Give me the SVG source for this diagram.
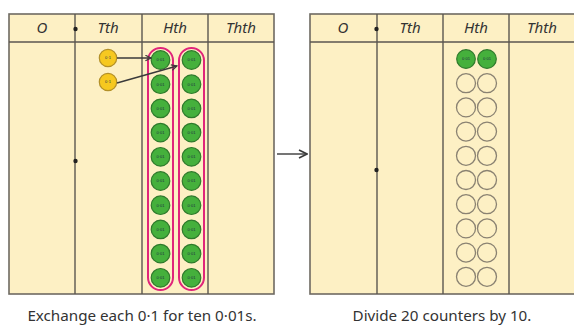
<svg xmlns="http://www.w3.org/2000/svg" width="574" height="334" viewBox="0 0 574 334">
<style>
.tbl{fill:#fdf0c4;stroke:#6e6a62;stroke-width:1.6}
.ln{stroke:#5a5650;stroke-width:1.4}
.hd{font-family:"Noto Sans","DejaVu Sans",sans-serif;font-size:15px;fill:#333;text-anchor:middle;font-style:italic}
.cap{font-family:"Noto Sans","DejaVu Sans",sans-serif;font-size:15.2px;fill:#333;text-anchor:middle}
.g{fill:#45b03c;stroke:#2f7a2c;stroke-width:1.2}
.y{fill:#f6c820;stroke:#b39028;stroke-width:1.2}
.h{fill:#fdf0c4;stroke:#8a8272;stroke-width:1.3}
.pill{fill:none;stroke:#e0257a;stroke-width:2}
.lbl{font-family:"Liberation Sans",sans-serif;font-size:4px;fill:#234;text-anchor:middle}
.arr{stroke:#3a3a3a;stroke-width:1.4;fill:none}
.dot{fill:#222}
</style>
<defs>
<marker id="ah" viewBox="0 0 10 10" refX="9" refY="5" markerWidth="7" markerHeight="7" orient="auto" markerUnits="userSpaceOnUse">
<path d="M1,1 L9,5 L1,9" fill="none" stroke="#3a3a3a" stroke-width="1.6"/>
</marker>
<marker id="ah2" viewBox="0 0 10 10" refX="9" refY="5" markerWidth="10" markerHeight="10" orient="auto" markerUnits="userSpaceOnUse">
<path d="M1,1 L9,5 L1,9" fill="none" stroke="#3a3a3a" stroke-width="1.6"/>
</marker>
<g id="gc"><circle r="9.3" class="g"/><text y="1.4" class="lbl">0·01</text></g>
<g id="yc"><circle r="8.7" class="y"/><text y="1.4" class="lbl">0·1</text></g>
<circle id="hc" r="9.5" class="h"/>
</defs>

<g id="left-table">
<rect x="9" y="14" width="265" height="280" class="tbl"/>
<line x1="9" y1="42" x2="274" y2="42" class="ln"/>
<line x1="75" y1="14" x2="75" y2="294" class="ln"/>
<line x1="142" y1="14" x2="142" y2="294" class="ln"/>
<line x1="208" y1="14" x2="208" y2="294" class="ln"/>
<text x="42" y="33" class="hd">O</text>
<text x="108" y="33" class="hd">Tth</text>
<text x="175" y="33" class="hd">Hth</text>
<text x="241" y="33" class="hd">Thth</text>
<circle cx="75.5" cy="29" r="2.2" class="dot"/>
<circle cx="75.5" cy="161" r="2.2" class="dot"/>
</g>

<g id="right-table">
<rect x="310" y="14" width="266" height="280" class="tbl"/>
<line x1="310" y1="42" x2="576" y2="42" class="ln"/>
<line x1="377" y1="14" x2="377" y2="294" class="ln"/>
<line x1="443" y1="14" x2="443" y2="294" class="ln"/>
<line x1="509" y1="14" x2="509" y2="294" class="ln"/>
<text x="343" y="33" class="hd">O</text>
<text x="410" y="33" class="hd">Tth</text>
<text x="476" y="33" class="hd">Hth</text>
<text x="542" y="33" class="hd">Thth</text>
<circle cx="376.5" cy="29" r="2.2" class="dot"/>
<circle cx="376.5" cy="170" r="2.2" class="dot"/>
</g>

<g id="tenths">
<use href="#yc" x="108" y="58"/>
<use href="#yc" x="108" y="82"/>
</g>

<g id="hundredths-left">
<rect x="148" y="48" width="25" height="242" rx="12.5" class="pill"/>
<rect x="179" y="48" width="25" height="242" rx="12.5" class="pill"/>
<use href="#gc" x="160.5" y="60"/><use href="#gc" x="191.5" y="60"/>
<use href="#gc" x="160.5" y="84.2"/><use href="#gc" x="191.5" y="84.2"/>
<use href="#gc" x="160.5" y="108.4"/><use href="#gc" x="191.5" y="108.4"/>
<use href="#gc" x="160.5" y="132.6"/><use href="#gc" x="191.5" y="132.6"/>
<use href="#gc" x="160.5" y="156.8"/><use href="#gc" x="191.5" y="156.8"/>
<use href="#gc" x="160.5" y="181"/><use href="#gc" x="191.5" y="181"/>
<use href="#gc" x="160.5" y="205.2"/><use href="#gc" x="191.5" y="205.2"/>
<use href="#gc" x="160.5" y="229.4"/><use href="#gc" x="191.5" y="229.4"/>
<use href="#gc" x="160.5" y="253.6"/><use href="#gc" x="191.5" y="253.6"/>
<use href="#gc" x="160.5" y="277.8"/><use href="#gc" x="191.5" y="277.8"/>
</g>

<g id="hundredths-right">
<use href="#gc" x="466" y="59"/><use href="#gc" x="487" y="59"/>
<use href="#hc" x="466" y="83.2"/><use href="#hc" x="487" y="83.2"/>
<use href="#hc" x="466" y="107.4"/><use href="#hc" x="487" y="107.4"/>
<use href="#hc" x="466" y="131.6"/><use href="#hc" x="487" y="131.6"/>
<use href="#hc" x="466" y="155.8"/><use href="#hc" x="487" y="155.8"/>
<use href="#hc" x="466" y="180"/><use href="#hc" x="487" y="180"/>
<use href="#hc" x="466" y="204.2"/><use href="#hc" x="487" y="204.2"/>
<use href="#hc" x="466" y="228.4"/><use href="#hc" x="487" y="228.4"/>
<use href="#hc" x="466" y="252.6"/><use href="#hc" x="487" y="252.6"/>
<use href="#hc" x="466" y="276.8"/><use href="#hc" x="487" y="276.8"/>
</g>

<g id="connectors">
<line x1="117" y1="58" x2="151" y2="58" class="arr" marker-end="url(#ah)"/>
<line x1="117" y1="83" x2="177" y2="66" class="arr" marker-end="url(#ah)"/>
<line x1="277" y1="154" x2="307" y2="154" class="arr" marker-end="url(#ah2)"/>
</g>

<g id="captions">
<text x="142" y="321" class="cap">Exchange each 0·1 for ten 0·01s.</text>
<text x="442" y="321" class="cap">Divide 20 counters by 10.</text>
</g>
</svg>
